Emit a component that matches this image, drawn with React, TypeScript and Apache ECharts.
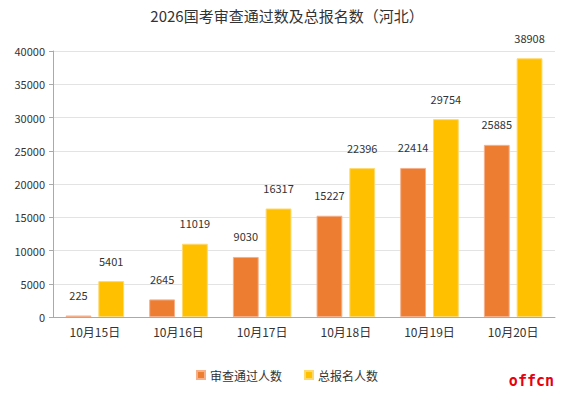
import React, { useEffect, useRef } from "react";
import * as echarts from "echarts";

const categories = ["10月15日", "10月16日", "10月17日", "10月18日", "10月19日", "10月20日"];
const passedCounts = [225, 2645, 9030, 15227, 22414, 25885];
const totalCounts = [5401, 11019, 16317, 22396, 29754, 38908];
const seriesNames = ["审查通过人数", "总报名人数"];

const FONT = "'Noto Sans CJK SC', 'Microsoft YaHei', sans-serif";

export default function App() {
  const ref = useRef<HTMLDivElement>(null);
  useEffect(() => {
    document.body.style.margin = "0";
    if (!ref.current) return;
    const chart = echarts.init(ref.current, null, { renderer: "svg" });
    chart.setOption({
      animation: false,
      backgroundColor: "#fff",
      textStyle: { fontFamily: FONT },
      title: {
        text: "2026国考审查通过数及总报名数（河北）",
        left: "center",
        top: 3,
        textStyle: { fontSize: 15, fontWeight: "normal", color: "#333", fontFamily: FONT },
      },
      legend: {
        bottom: 7,
        left: "center",
        itemWidth: 8,
        itemHeight: 8,
        itemGap: 22,
        icon: "rect",
        textStyle: { fontSize: 12, color: "#333", fontFamily: FONT },
        data: seriesNames,
      },
      grid: { left: 53, right: 19, top: 51, bottom: 76 },
      xAxis: {
        type: "category",
        data: categories,
        axisLine: { lineStyle: { color: "#aaa" } },
        axisTick: { alignWithLabel: true, lineStyle: { color: "#aaa" } },
        axisLabel: { color: "#333", fontSize: 12, margin: 8, fontFamily: FONT },
      },
      yAxis: {
        type: "value",
        min: 0,
        max: 40000,
        interval: 5000,
        axisLine: { show: true, lineStyle: { color: "#aaa" } },
        axisTick: { show: true, length: 4, lineStyle: { color: "#aaa" } },
        axisLabel: { color: "#333", fontSize: 11, fontFamily: FONT, formatter: (v: number) => String(v) },
        splitLine: { lineStyle: { color: "#e3e3e3" } },
      },
      series: [
        {
          name: seriesNames[0],
          type: "bar",
          data: passedCounts,
          barGap: "27%",
          barCategoryGap: "30%",
          itemStyle: { color: "#ED7D31", borderColor: "#F5B08A", borderWidth: 1 },
          label: { show: true, position: "top", distance: 15, color: "#333", fontSize: 11, fontFamily: FONT },
        },
        {
          name: seriesNames[1],
          type: "bar",
          data: totalCounts,
          itemStyle: { color: "#FFC000", borderColor: "#FFD970", borderWidth: 1 },
          label: { show: true, position: "top", distance: 15, color: "#333", fontSize: 11, fontFamily: FONT },
        },
      ],
      graphic: [
        {
          type: "text",
          right: 20,
          bottom: 5,
          style: {
            text: "offcn",
            fill: "#e60012",
            font: "bold 15px 'DejaVu Sans Mono', monospace",
          },
        },
      ],
    });
    return () => chart.dispose();
  }, []);
  return <div ref={ref} style={{ width: 574, height: 393 }} />;
}
